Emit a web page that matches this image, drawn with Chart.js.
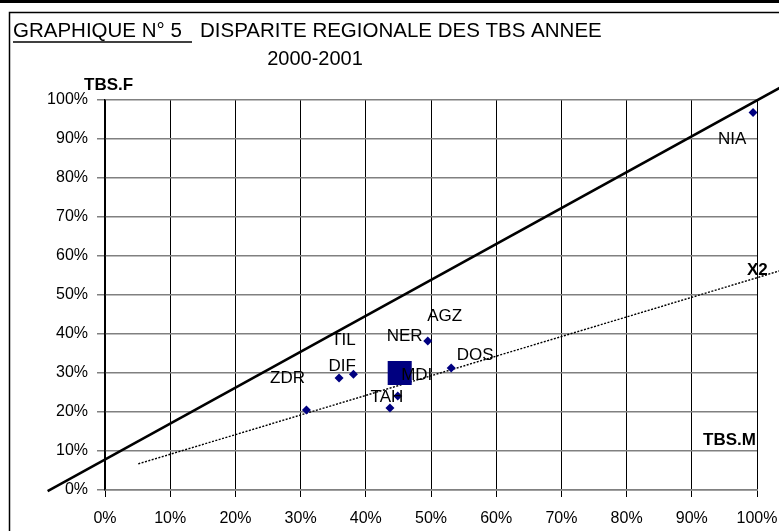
<!DOCTYPE html>
<html>
<head>
<meta charset="utf-8">
<script src="https://cdn.jsdelivr.net/npm/chart.js@4/dist/chart.umd.min.js"></script>
<style>
  html, body { margin: 0; padding: 0; background: #ffffff; }
  #wrap { width: 779px; height: 531px; position: relative; }
</style>
</head>
<body>
<div id="wrap"><canvas id="c" width="779" height="531"></canvas></div>
<script>
// ---- Data ----
const regions = ['ZDR', 'DIF', 'TIL', 'TAH', 'MDI', 'AGZ', 'DOS', 'NIA'];
const tbsM = [30.9, 35.9, 38.1, 43.7, 44.9, 49.5, 53.1, 99.4];   // TBS garçons (x)
const tbsF = [20.5, 28.7, 29.7, 21.0, 24.1, 38.2, 31.3, 96.8];   // TBS filles (y)
const nationalName = ['NER'];
const nationalM = [45.2];
const nationalF = [30.0];
// reference line (solid) and trend line X2 (dotted), endpoints as read
const refLineX = [-8.8, 104.0];
const refLineY = [-0.3, 103.6];
const trendX = [5.1, 103.7];
const trendY = [6.7, 56.3];
const tickValues = [0, 10, 20, 30, 40, 50, 60, 70, 80, 90, 100];

const titleMain = 'GRAPHIQUE N° 5 ';
const titleRest = 'DISPARITE REGIONALE DES TBS ANNEE';
const titleYear = '2000-2001';
const yAxisName = 'TBS.F';
const xAxisName = 'TBS.M';
const trendName = 'X2';

// label offsets (pixels) relative to each marker – styling only
const labelOffsets = {
  ZDR: [-19, -32], DIF: [3, -12], TIL: [-10, -34], TAH: [-3, -11],
  MDI: [19, -21], AGZ: [17, -25], DOS: [24, -13], NIA: [-21, 27], NER: [5, -37]
};

const pts = (xs, ys) => xs.map((x, i) => ({ x: x, y: ys[i] }));

const decorPlugin = {
  id: 'decor',
  beforeDraw(chart) {
    const ctx = chart.ctx;
    ctx.save();
    ctx.fillStyle = '#ffffff';
    ctx.fillRect(0, 0, chart.width, chart.height);
    ctx.restore();
  },
  afterDraw(chart) {
    const ctx = chart.ctx;
    ctx.save();
    // frame
    ctx.strokeStyle = '#000';
    ctx.lineWidth = 3;
    ctx.beginPath(); ctx.moveTo(0, 1.5); ctx.lineTo(779, 1.5); ctx.stroke();
    ctx.lineWidth = 1.5;
    ctx.beginPath(); ctx.moveTo(9.5, 531); ctx.lineTo(9.5, 12.5); ctx.lineTo(779, 12.5); ctx.stroke();

    // title
    ctx.fillStyle = '#000';
    ctx.font = '20.5px "Liberation Sans", Arial, sans-serif';
    ctx.textAlign = 'left';
    ctx.textBaseline = 'alphabetic';
    ctx.fillText(titleMain, 13, 37);
    ctx.lineWidth = 1.5;
    ctx.beginPath(); ctx.moveTo(13, 42); ctx.lineTo(192, 42); ctx.stroke();
    ctx.fillText(titleRest, 200, 37);
    ctx.font = '20px "Liberation Sans", Arial, sans-serif';
    ctx.textAlign = 'center';
    ctx.fillText(titleYear, 315, 65);

    // axis names
    ctx.font = 'bold 17px "Liberation Sans", Arial, sans-serif';
    ctx.textAlign = 'left';
    ctx.fillText(yAxisName, 84, 90);
    ctx.fillText(xAxisName, 703, 445);
    ctx.fillText(trendName, 747, 275);

    // data labels
    ctx.font = '17px "Liberation Sans", Arial, sans-serif';
    ctx.textAlign = 'center';
    ctx.textBaseline = 'middle';
    const xs = chart.scales.x, ys = chart.scales.y;
    regions.forEach((n, i) => {
      const o = labelOffsets[n];
      ctx.fillText(n, xs.getPixelForValue(tbsM[i]) + o[0], ys.getPixelForValue(tbsF[i]) + o[1]);
    });
    nationalName.forEach((n, i) => {
      const o = labelOffsets[n];
      ctx.fillText(n, xs.getPixelForValue(nationalM[i]) + o[0], ys.getPixelForValue(nationalF[i]) + o[1]);
    });
    ctx.restore();
  }
};

const tickFont = { family: '"Liberation Sans", Arial, sans-serif', size: 16 };

new Chart(document.getElementById('c'), {
  type: 'scatter',
  data: {
    datasets: [
      {
        label: 'ref', data: pts(refLineX, refLineY), showLine: true,
        borderColor: '#000', borderWidth: 2.5, pointRadius: 0, clip: false, order: 3
      },
      {
        label: trendName, data: pts(trendX, trendY), showLine: true,
        borderColor: '#000', borderWidth: 1.4, borderDash: [2, 1.5], pointRadius: 0, clip: false, order: 2
      },
      {
        label: 'regions', data: pts(tbsM, tbsF),
        pointStyle: 'rectRot', pointRadius: 4.5, backgroundColor: '#000080', borderColor: '#000080',
        borderWidth: 0, order: 1
      },
      {
        label: 'NER', data: pts(nationalM, nationalF),
        pointStyle: 'rect', pointRadius: 17, backgroundColor: '#000080', borderColor: '#000080',
        borderWidth: 0, order: 0
      }
    ]
  },
  options: {
    responsive: false,
    animation: false,
    devicePixelRatio: 1,
    layout: { padding: { left: 0, right: 22, top: 100, bottom: 0 } },
    plugins: { legend: { display: false }, tooltip: { enabled: false }, title: { display: false } },
    scales: {
      x: {
        type: 'linear', min: 0, max: 100,
        afterBuildTicks: s => { s.ticks = tickValues.map(v => ({ value: v })); },
        afterFit: s => { s.height = 41; s.paddingLeft = 0; s.paddingRight = 0; },
        ticks: { callback: v => v + '%', font: tickFont, color: '#000', padding: 12, maxRotation: 0 },
        grid: { color: '#000', lineWidth: 1, tickLength: 7, tickColor: '#000' },
        border: { display: true, color: '#808080', width: 1.5 }
      },
      y: {
        type: 'linear', min: 0, max: 100,
        afterBuildTicks: s => { s.ticks = tickValues.map(v => ({ value: v })); },
        afterFit: s => { s.width = 105; s.paddingTop = 0; s.paddingBottom = 0; },
        ticks: { callback: v => v + '%', font: tickFont, color: '#000', padding: 9 },
        grid: { color: '#808080', lineWidth: 1.5, tickLength: 8, tickColor: '#808080' },
        border: { display: true, color: '#000', width: 1.5 }
      }
    }
  },
  plugins: [decorPlugin]
});
</script>
</body>
</html>
